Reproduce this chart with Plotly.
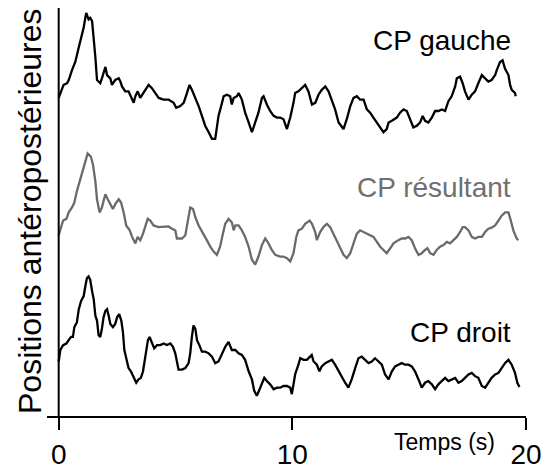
import plotly.graph_objects as go

# ---- data (time in s, antero-posterior position in arbitrary units) ----
t_gauche = [0.00,0.14,0.21,0.36,0.43,0.57,0.71,0.86,1.00,1.07,1.14,1.18,1.28,1.35,1.43,1.50,1.57,1.64,1.78,1.85,
            1.92,2.00,2.07,2.21,2.28,2.42,2.57,2.64,2.71,2.85,2.99,3.07,3.21,3.28,3.38,3.49,3.64,3.85,3.99,4.13,
            4.28,4.49,4.70,4.92,5.03,5.20,5.35,5.49,5.60,5.70,5.85,5.99,6.13,6.27,6.42,6.56,6.70,6.84,6.99,7.06,
            7.20,7.34,7.41,7.49,7.63,7.70,7.84,7.98,8.13,8.27,8.41,8.55,8.70,8.77,8.91,9.05,9.20,9.34,9.48,9.62,
            9.77,9.91,10.05,10.12,10.26,10.41,10.55,10.69,10.84,10.98,11.12,11.26,11.41,11.55,11.69,11.83,11.98,12.19,12.33,12.48,
            12.62,12.76,12.90,13.05,13.19,13.33,13.47,13.62,13.76,13.90,14.04,14.12,14.26,14.47,14.61,14.76,14.90,15.04,15.18,15.33,
            15.47,15.58,15.68,15.82,15.97,16.11,16.25,16.40,16.54,16.68,16.82,16.97,17.04,17.18,17.29,17.39,17.54,17.68,17.82,17.96,
            18.11,18.25,18.39,18.53,18.68,18.75,18.89,19.00,19.10,19.25,19.32,19.39,19.53,19.56]
v_gauche = [0.00,0.83,1.33,1.50,1.83,2.83,3.67,5.17,6.50,7.17,8.17,8.67,8.00,8.17,7.83,6.17,4.17,1.83,1.50,2.00,
            2.50,3.17,2.33,2.00,1.33,1.83,2.00,1.67,1.17,0.67,0.67,0.17,-0.50,0.17,0.67,0.00,0.50,1.33,1.00,0.50,
            0.00,-0.17,-0.17,-0.50,-1.00,-0.83,-0.50,0.50,1.33,0.83,0.00,-0.83,-1.83,-2.83,-3.50,-4.17,-4.17,-1.83,-0.50,0.17,
            0.33,0.17,-0.67,0.00,0.17,0.50,-0.17,-1.50,-2.50,-3.50,-2.50,-1.50,0.00,0.17,-0.67,-1.33,-1.83,-2.00,-2.00,-2.17,
            -3.17,-2.00,-0.50,0.50,0.67,1.00,1.33,0.67,-0.67,-0.50,0.33,0.83,1.17,0.67,-0.17,-1.17,-2.50,-3.17,-2.17,-0.83,
            0.00,0.17,-0.17,-0.17,-1.17,-1.50,-2.00,-2.50,-3.00,-3.50,-3.17,-2.50,-2.33,-2.00,-1.50,-1.17,-1.33,-2.17,-3.00,-2.83,
            -2.50,-1.83,-2.33,-2.50,-2.00,-1.33,-1.33,-1.17,-1.33,-0.33,0.17,1.17,2.00,2.17,1.50,0.67,-0.17,0.33,0.67,1.50,
            2.33,2.00,1.67,1.83,2.33,2.83,3.67,3.83,3.00,2.33,1.33,0.83,0.50,0.17]

t_result = [0.00,0.07,0.19,0.33,0.43,0.57,0.67,0.78,0.93,1.07,1.18,1.24,1.38,1.47,1.57,1.64,1.75,1.85,1.92,2.00,
            2.10,2.21,2.32,2.42,2.57,2.67,2.78,2.89,3.04,3.14,3.28,3.38,3.49,3.61,3.71,3.81,3.92,4.06,4.28,4.49,
            4.70,4.85,4.99,5.06,5.28,5.42,5.52,5.63,5.75,5.85,5.99,6.20,6.34,6.49,6.63,6.77,6.91,7.03,7.13,7.27,
            7.41,7.49,7.56,7.70,7.84,7.98,8.13,8.27,8.41,8.55,8.70,8.84,8.98,9.12,9.27,9.48,9.62,9.77,9.91,10.05,
            10.17,10.26,10.41,10.55,10.74,10.84,10.98,11.05,11.19,11.33,11.48,11.62,11.76,11.90,12.05,12.19,12.33,12.48,12.62,12.76,
            12.90,13.05,13.19,13.33,13.47,13.62,13.76,13.90,14.04,14.19,14.33,14.54,14.68,14.83,14.97,15.11,15.25,15.40,15.54,15.68,
            15.78,15.90,16.04,16.18,16.32,16.47,16.61,16.75,16.90,17.04,17.18,17.29,17.39,17.54,17.68,17.82,17.96,18.11,18.25,18.39,
            18.53,18.68,18.82,18.96,19.11,19.25,19.35,19.46,19.60,19.67]
v_result = [0.00,0.67,1.50,1.67,2.33,2.83,3.33,4.50,5.83,6.83,7.83,8.33,8.00,7.17,5.50,3.67,2.33,2.83,3.50,4.17,
            3.67,3.17,2.67,3.17,3.67,3.33,2.33,1.00,0.50,-0.17,-0.83,-0.17,-0.50,0.17,0.83,1.67,1.50,1.00,0.83,0.83,
            0.90,0.67,0.50,-0.33,-0.33,0.00,1.17,2.83,2.67,1.83,1.00,0.00,-0.50,-1.17,-1.67,-2.00,-1.17,0.17,1.17,1.67,
            1.33,0.50,1.00,1.00,0.50,-0.17,-1.17,-2.50,-3.00,-2.17,-1.00,-0.33,-0.83,-1.50,-2.00,-2.17,-2.17,-2.33,-2.67,-1.83,
            -0.17,0.50,0.67,1.17,1.50,1.17,0.33,-0.50,0.33,0.83,1.17,0.83,0.17,-0.50,-1.17,-2.00,-2.33,-1.83,-0.83,0.17,
            0.50,0.33,0.17,0.00,-0.17,-0.67,-1.17,-1.50,-1.83,-1.33,-0.83,-0.50,-0.33,-0.33,-0.17,-0.50,-1.33,-2.00,-1.83,-1.50,
            -1.33,-1.83,-2.00,-1.50,-1.17,-1.00,-0.67,-0.83,-0.50,-0.17,0.33,0.83,0.83,0.50,-0.17,-0.33,-0.17,-0.17,0.33,0.67,
            0.77,1.00,1.50,2.00,2.33,2.33,1.50,0.50,-0.33,-0.50]

t_droit = [0.00,0.07,0.19,0.33,0.43,0.53,0.61,0.67,0.78,0.86,0.96,1.07,1.14,1.21,1.28,1.35,1.43,1.50,1.57,1.64,
           1.71,1.78,1.85,1.92,2.00,2.07,2.14,2.21,2.32,2.42,2.50,2.59,2.68,2.75,2.81,2.89,2.99,3.09,3.21,3.32,
           3.42,3.52,3.61,3.68,3.75,3.82,3.89,3.99,4.09,4.21,4.35,4.49,4.63,4.78,4.89,4.99,5.06,5.13,5.28,5.42,
           5.56,5.63,5.70,5.77,5.85,5.92,6.02,6.13,6.27,6.42,6.56,6.70,6.84,6.99,7.13,7.27,7.41,7.56,7.70,7.84,
           7.98,8.13,8.27,8.37,8.48,8.60,8.70,8.80,8.91,9.05,9.20,9.34,9.48,9.62,9.77,9.91,9.98,10.05,10.12,10.26,
           10.34,10.48,10.62,10.76,10.83,10.91,11.05,11.16,11.26,11.41,11.55,11.69,11.83,11.98,12.12,12.26,12.40,12.54,12.69,12.83,
           12.97,13.12,13.26,13.40,13.54,13.69,13.83,13.97,14.12,14.26,14.40,14.54,14.68,14.83,14.97,15.11,15.25,15.40,15.54,15.68,
           15.82,15.97,16.11,16.25,16.40,16.54,16.68,16.82,16.97,17.11,17.25,17.39,17.54,17.68,17.82,17.96,18.11,18.25,18.39,18.53,
           18.68,18.82,18.96,19.10,19.25,19.39,19.53,19.63,19.72]
v_droit = [0.00,1.17,1.67,1.83,2.17,2.50,2.50,3.50,4.00,5.33,6.17,6.67,7.67,8.50,8.67,8.33,7.17,6.33,4.67,4.17,
           2.67,2.50,3.33,4.50,5.17,5.33,4.67,3.83,3.50,3.83,4.50,4.83,4.17,3.00,1.17,0.33,-0.67,-1.00,-1.67,-2.17,
           -1.83,-1.67,-1.00,0.00,1.33,2.17,2.50,1.83,1.33,1.67,1.67,1.83,1.67,1.83,1.50,0.83,0.00,-0.83,-0.83,-0.67,
           -0.17,0.83,2.50,3.67,3.33,2.17,1.67,1.00,1.00,0.83,0.50,-0.17,0.00,0.83,1.50,2.00,1.17,1.17,0.83,0.67,
           0.17,-1.00,-1.83,-3.00,-3.50,-2.83,-2.17,-1.67,-2.00,-2.33,-2.83,-2.67,-2.67,-2.50,-2.50,-2.67,-3.33,-2.50,-1.33,-0.33,
           0.33,0.17,0.17,0.50,0.67,0.00,-0.33,-1.00,-0.50,-0.17,0.00,0.17,-0.33,-1.00,-1.67,-2.17,-2.67,-1.83,-0.67,0.33,
           0.50,0.17,-0.17,0.00,0.33,0.00,-0.33,-1.33,-1.83,-1.00,-0.50,-0.33,-0.17,-0.33,-0.33,-0.50,-1.00,-1.83,-2.67,-2.17,
           -2.00,-2.33,-2.83,-2.33,-2.00,-1.67,-2.00,-1.83,-1.67,-2.17,-2.00,-1.67,-1.33,-1.17,-1.50,-1.67,-2.50,-2.67,-2.17,-1.67,
           -1.33,-1.17,-0.67,-0.17,0.17,-0.33,-1.17,-2.17,-2.60]

series_names = ["CP gauche", "CP résultant", "CP droit"]
x_ticks = [0, 10, 20]
x_title = "Temps (s)"
y_title = "Positions antéropostérieures"

# ---- display settings (stacking offsets, colours) ----
offsets = [32.43, 18.43, 5.56]
colors = ["#000000", "#6a6a6a", "#000000"]
text_colors = ["#000000", "#707070", "#000000"]
label_y = [38.3, 23.3, 8.5]
FONT = "Liberation Sans, Arial, sans-serif"

fig = go.Figure()
for t, v, off, col, name in zip([t_gauche, t_result, t_droit],
                                [v_gauche, v_result, v_droit],
                                offsets, colors, series_names):
    fig.add_trace(go.Scatter(x=t, y=[off + a for a in v], mode="lines",
                             line=dict(color=col, width=2.3), name=name,
                             showlegend=False, cliponaxis=False))

for name, col, ly in zip(series_names, text_colors, label_y):
    fig.add_annotation(x=19.45, y=ly, xref="x", yref="y", text=name,
                       showarrow=False, xanchor="right", yanchor="middle",
                       font=dict(family=FONT, size=28, color=col))

fig.add_annotation(x=16.5, y=-0.064, xref="x", yref="paper", text=x_title,
                   showarrow=False, xanchor="center", yanchor="middle",
                   font=dict(family=FONT, size=23, color="#000"))

fig.add_annotation(x=-0.035, y=0.503, xref="paper", yref="paper", text=y_title,
                   textangle=-90, showarrow=False, xanchor="center", yanchor="middle",
                   font=dict(family=FONT, size=32, color="#000"))

# vertical axis line at t = 0
fig.add_shape(type="line", xref="x", yref="paper", x0=0, x1=0, y0=0, y1=1,
              line=dict(color="#000", width=2))

fig.update_xaxes(range=[-0.5, 20.001], tickvals=x_ticks, ticktext=[str(v) for v in x_ticks],
                 showline=True, linecolor="#000", linewidth=2, ticks="outside",
                 ticklen=12, tickwidth=2, tickcolor="#000", showgrid=False, zeroline=False,
                 tickfont=dict(family=FONT, size=28, color="#000"))
fig.update_yaxes(range=[0, 41.6], showticklabels=False, showgrid=False, zeroline=False,
                 showline=False, ticks="")

# the page body adds an 8 px margin, so the figure is sized to fill the remaining window
fig.update_layout(width=542, height=462, autosize=False,
                  margin=dict(l=39, r=24, t=0, b=46),
                  paper_bgcolor="white", plot_bgcolor="white")

fig.write_html("out.html")
